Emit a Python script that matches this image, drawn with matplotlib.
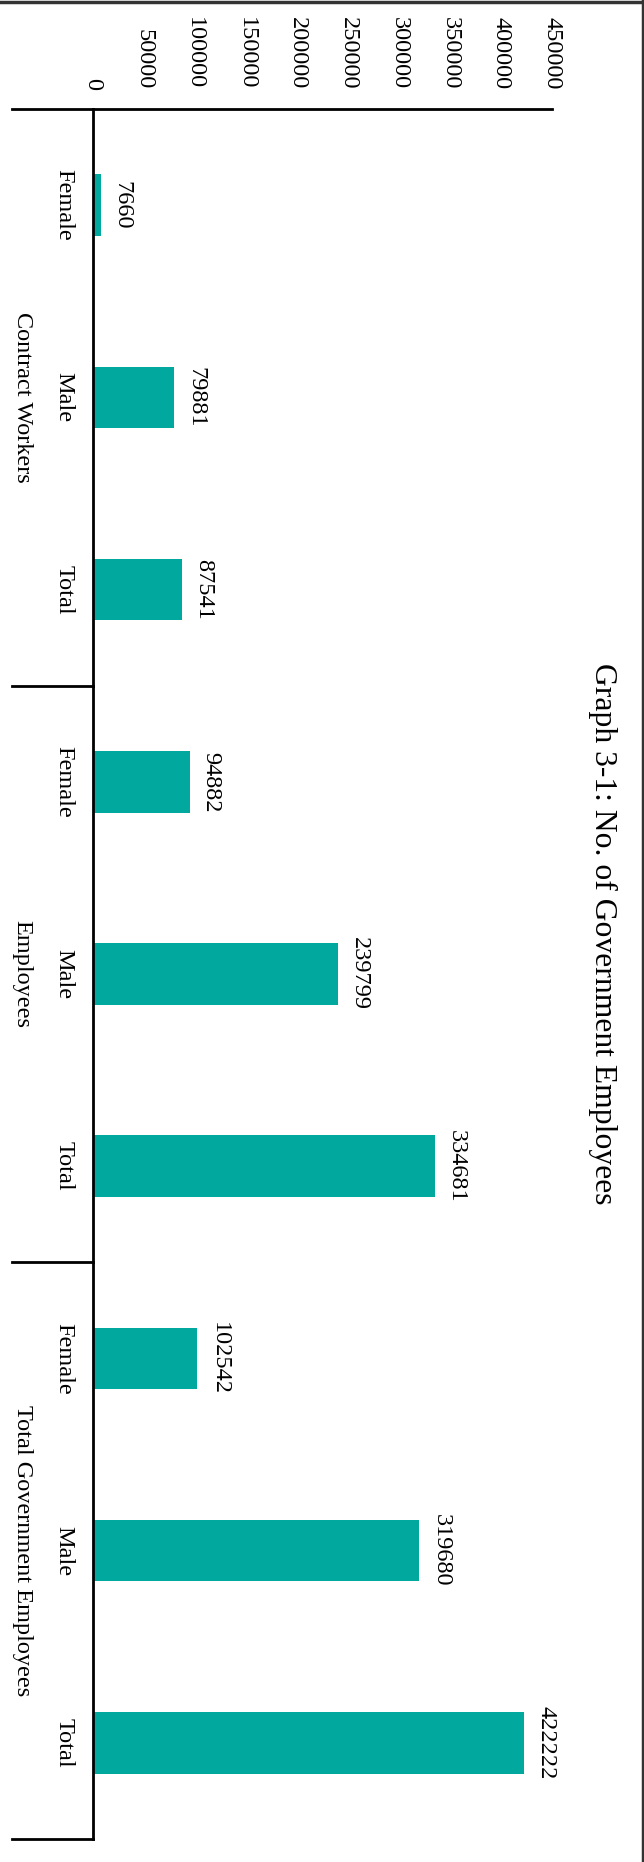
import matplotlib
matplotlib.use('Agg')
import matplotlib.pyplot as plt
import matplotlib.transforms as mtransforms
from matplotlib.lines import Line2D

plt.rcParams['font.family'] = ['Liberation Serif', 'DejaVu Serif']

groups = ['Contract Workers', 'Employees', 'Total Government Employees']
sub_labels = ['Female', 'Male', 'Total']
values = [7660, 79881, 87541,
          94882, 239799, 334681,
          102542, 319680, 422222]
value_ticks = [0, 50000, 100000, 150000, 200000, 250000, 300000, 350000, 400000, 450000]

W, H = 644, 1862
fig = plt.figure(figsize=(W / 100, H / 100), dpi=100)

# axes placed in pixel terms (figure is drawn already rotated, landscape -> portrait)
x0, x1 = 92.7, 552.4
ytop, ybot = 109, 1839
ax = fig.add_axes([x0 / W, (H - ybot) / H, (x1 - x0) / W, (ybot - ytop) / H])

pos = list(range(len(values)))
ax.barh(pos, values, height=0.32, color='#00A89D')
ax.set_xlim(0, 450000)
ax.set_ylim(len(values) - 0.5, -0.5)

for sp in ['right', 'bottom']:
    ax.spines[sp].set_visible(False)
ax.spines['top'].set_linewidth(2)
ax.spines['left'].set_linewidth(2)

fs = 17.5
ax.xaxis.tick_top()
ax.set_xticks(value_ticks)
ax.set_xticklabels([str(v) for v in value_ticks], rotation=-90, fontsize=fs)
ax.tick_params(axis='x', length=0, pad=14)

ax.set_yticks(pos)
ax.set_yticklabels(sub_labels * 3, rotation=-90, fontsize=fs, va='center')
ax.tick_params(axis='y', length=0, pad=13)

# value labels
for p, v in zip(pos, values):
    ax.annotate(str(v), (v, p), xytext=(8, 0), textcoords='offset points',
                rotation=-90, ha='left', va='center', fontsize=fs)

# group labels and separators
trans = mtransforms.blended_transform_factory(fig.transFigure, ax.transData)
for i, g in enumerate(groups):
    ax.text(22 / W, i * 3 + 1, g, transform=trans, rotation=-90,
            ha='center', va='center', fontsize=fs, clip_on=False)
for b in [-0.5, 2.5, 5.5, 8.5]:
    ax.add_line(Line2D([12 / W, x0 / W], [b, b], transform=trans, color='black',
                       lw=2, clip_on=False))

# title
fig.text(603 / W, (H - 934) / H, 'Graph 3-1: No. of Government Employees',
         rotation=-90, ha='center', va='center', fontsize=22.8)

# frame on top and right
fig.add_artist(Line2D([0, 1], [1 - 1.5 / H, 1 - 1.5 / H], transform=fig.transFigure,
                      color='#333333', lw=2.5))
fig.add_artist(Line2D([1 - 1.5 / W, 1 - 1.5 / W], [0, 1], transform=fig.transFigure,
                      color='#333333', lw=2.5))

fig.savefig('out.png', dpi=100)
